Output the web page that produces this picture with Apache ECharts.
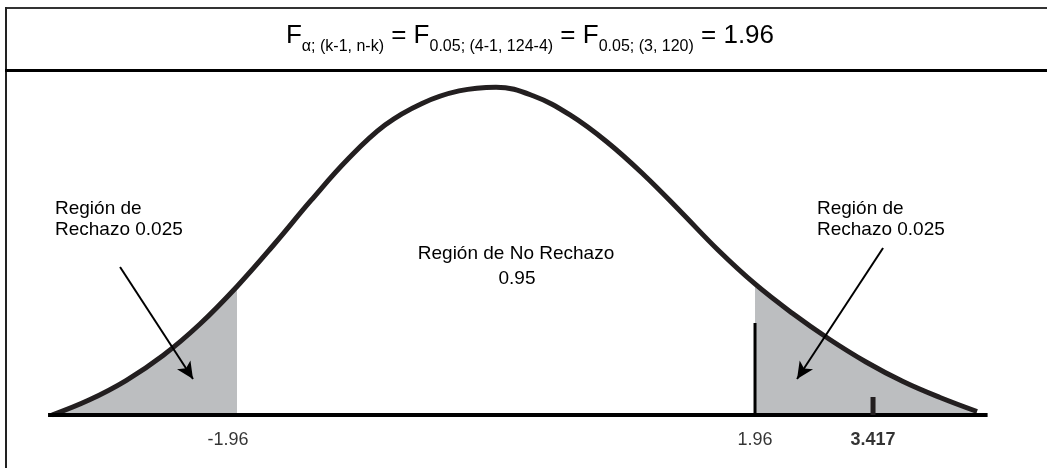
<!DOCTYPE html>
<html>
<head>
<meta charset="utf-8">
<script src="https://cdn.jsdelivr.net/npm/echarts@6/dist/echarts.min.js"></script>
<style>
html,body{margin:0;padding:0;background:#fff;}
#chart{width:1047px;height:468px;}
</style>
</head>
<body>
<div id="chart"></div>
<script>
// ---- data (schematic z units / density) ----
const curveX = [-3.36, -3.08, -2.80, -2.52, -2.24, -1.96, -1.68, -1.40, -1.12, -0.84, -0.56, -0.28, 0.00, 0.28, 0.56, 0.84, 1.12, 1.40, 1.68, 1.96, 2.24, 2.52, 2.80, 3.08, 3.36, 3.64];
const curveY = [0.0000, 0.0180, 0.0414, 0.0715, 0.1093, 0.1544, 0.2048, 0.2577, 0.3075, 0.3483, 0.3743, 0.3893, 0.3938, 0.3835, 0.3604, 0.3279, 0.2883, 0.2438, 0.1982, 0.1574, 0.1225, 0.0913, 0.0637, 0.0402, 0.0210, 0.0042];
const criticalLow = -1.96;
const criticalHigh = 1.96;
const criticalLineTop = 0.1105;
const statPosition = 2.853;      // where "3.417" is marked
const statTickTop = 0.0216;
const baselineRange = [-3.39, 3.72];
const tickPositions = [-1.96, 1.96, 2.853];
const tickLabels = ['-1.96', '1.96', '3.417'];
const arrowLeft = [[-2.845, 0.1778], [-2.293, 0.0432]];
const arrowRight = [[2.929, 0.2006], [2.278, 0.0432]];
const titleMain = ['F', ' = F', ' = F', ' = 1.96'];
const titleSub = ['α; (k-1, n-k)', '0.05; (4-1, 124-4)', '0.05; (3, 120)'];
const sideLabel = 'Región de\nRechazo 0.025';
const centerLabel = ['Región de No Rechazo', '0.95'];

// ---- build ----
const FONT = '"Liberation Sans", Arial, Helvetica, sans-serif';
const curve = curveX.map((x, i) => [x, curveY[i]]);
const leftTail = curve.filter(p => p[0] <= criticalLow + 1e-9);
const rightTail = curve.filter(p => p[0] >= criticalHigh - 1e-9);

// title layout measured with canvas
const ctx = document.createElement('canvas').getContext('2d');
const mainSize = 26, subSize = 16;
const pieces = [];
for (let i = 0; i < titleMain.length; i++) {
  pieces.push({ t: titleMain[i], sub: false });
  if (i < titleSub.length) pieces.push({ t: titleSub[i], sub: true });
}
let total = 0;
pieces.forEach(p => {
  ctx.font = (p.sub ? subSize : mainSize) + 'px ' + FONT;
  p.w = ctx.measureText(p.t).width;
  total += p.w;
});
let cx = 530 - total / 2;
const titleGraphics = pieces.map(p => {
  const el = {
    type: 'text', x: cx, y: p.sub ? 52 - 0.34 * subSize : 45 - 0.34 * mainSize,
    silent: true,
    style: {
      text: p.t, font: (p.sub ? subSize : mainSize) + 'px ' + FONT, fill: '#000',
      align: 'left', verticalAlign: 'middle', textAlign: 'left', textVerticalAlign: 'middle'
    }
  };
  cx += p.w;
  return el;
});

const chart = echarts.init(document.getElementById('chart'), null, { renderer: 'canvas' });
const lineOnly = { type: 'line', symbol: 'none', silent: true, animation: false };

chart.setOption({
  animation: false,
  backgroundColor: '#fff',
  grid: { left: 33.5, right: 22.4, top: 82, bottom: 53, containLabel: false },
  xAxis: { type: 'value', min: -3.5, max: 4, show: false },
  yAxis: { type: 'value', min: 0, max: 0.4, show: false },
  series: [
    Object.assign({}, lineOnly, {
      name: 'leftTail', data: leftTail, smooth: 0.4, z: 1,
      lineStyle: { width: 0, opacity: 0 }, areaStyle: { color: '#bcbec0', opacity: 1 }
    }),
    Object.assign({}, lineOnly, {
      name: 'rightTail', data: rightTail, smooth: 0.4, z: 1,
      lineStyle: { width: 0, opacity: 0 }, areaStyle: { color: '#bcbec0', opacity: 1 }
    }),
    Object.assign({}, lineOnly, {
      name: 'curve', data: curve, smooth: 0.4, z: 3,
      lineStyle: { width: 5, color: '#231f20', cap: 'butt', join: 'round' },
      markLine: {
        silent: true, animation: false, symbol: ['none', 'arrow'], symbolSize: [12, 17],
        label: { show: false },
        lineStyle: { type: 'solid', color: '#000', width: 2 },
        data: [
          [{ coord: arrowLeft[0] }, { coord: arrowLeft[1] }],
          [{ coord: arrowRight[0] }, { coord: arrowRight[1] }]
        ]
      }
    }),
    Object.assign({}, lineOnly, {
      name: 'baseline', data: [[baselineRange[0], 0], [baselineRange[1], 0]], z: 4,
      lineStyle: { width: 4, color: '#000', cap: 'butt' }
    }),
    Object.assign({}, lineOnly, {
      name: 'critical', data: [[criticalHigh, 0], [criticalHigh, criticalLineTop]], z: 4,
      lineStyle: { width: 3, color: '#000', cap: 'butt' }
    }),
    Object.assign({}, lineOnly, {
      name: 'stat', data: [[statPosition, 0], [statPosition, statTickTop]], z: 4,
      lineStyle: { width: 5, color: '#231f20', cap: 'butt' }
    }),
    {
      type: 'scatter', name: 'ticks', silent: true, animation: false, z: 5,
      symbol: 'circle', symbolSize: 1, itemStyle: { color: 'rgba(0,0,0,0)' },
      data: tickPositions.map((p, i) => ({
        value: [p, 0],
        label: {
          formatter: tickLabels[i],
          fontWeight: i === 2 ? 'bold' : 'normal',
          offset: i === 0 ? [-9, 0] : [0, 0]
        }
      })),
      label: {
        show: true, position: 'bottom', distance: 16,
        fontSize: 18, color: '#000', fontFamily: FONT
      }
    }
  ],
  graphic: [
    { type: 'line', silent: true, shape: { x1: 5, y1: 8, x2: 1047, y2: 8 }, style: { stroke: '#333', lineWidth: 2 } },
    { type: 'line', silent: true, shape: { x1: 6, y1: 7, x2: 6, y2: 468 }, style: { stroke: '#222', lineWidth: 2 } },
    { type: 'line', silent: true, shape: { x1: 5, y1: 70.5, x2: 1047, y2: 70.5 }, style: { stroke: '#000', lineWidth: 3 } },
    ...titleGraphics,
    {
      type: 'text', silent: true, x: 55, y: 198,
      style: { text: sideLabel, font: '19px ' + FONT, fill: '#000', lineHeight: 21,
        align: 'left', verticalAlign: 'top', textAlign: 'left', textVerticalAlign: 'top' }
    },
    {
      type: 'text', silent: true, x: 817, y: 198,
      style: { text: sideLabel, font: '19px ' + FONT, fill: '#000', lineHeight: 21,
        align: 'left', verticalAlign: 'top', textAlign: 'left', textVerticalAlign: 'top' }
    },
    {
      type: 'text', silent: true, x: 516, y: 260 - 0.34 * 19,
      style: { text: centerLabel[0], font: '19px ' + FONT, fill: '#000',
        align: 'center', verticalAlign: 'middle', textAlign: 'center', textVerticalAlign: 'middle' }
    },
    {
      type: 'text', silent: true, x: 517, y: 285 - 0.34 * 19,
      style: { text: centerLabel[1], font: '19px ' + FONT, fill: '#000',
        align: 'center', verticalAlign: 'middle', textAlign: 'center', textVerticalAlign: 'middle' }
    }
  ]
});
</script>
</body>
</html>
